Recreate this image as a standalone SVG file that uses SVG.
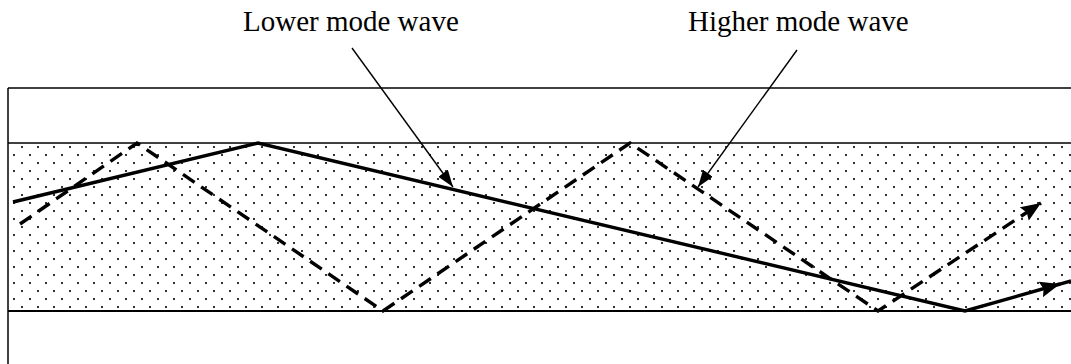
<svg xmlns="http://www.w3.org/2000/svg" width="1071" height="364" viewBox="0 0 1071 364">
  <defs>
    <style>
      .label { font-family: "Liberation Serif", "Times New Roman", serif; font-size: 29px; fill: #000; }
      .edge { stroke: #000; stroke-width: 1.5; fill: none; }
      .wave { stroke: #000; stroke-width: 3.4; fill: none; stroke-linejoin: miter; }
      .dashed { stroke-dasharray: 14 8; }
      .leader { stroke: #000; stroke-width: 1.4; fill: none; }
    </style>
    <pattern id="dots" patternUnits="userSpaceOnUse" x="13" y="10" width="16" height="16">
      <rect x="0" y="0" width="2" height="2" fill="#333"/>
      <rect x="8" y="8" width="2" height="2" fill="#333"/>
    </pattern>
    <marker id="bigArrow" markerUnits="userSpaceOnUse" markerWidth="22" markerHeight="16" refX="20" refY="8" orient="auto">
      <path d="M0,0 L20,8 L0,16 L3,8 z" fill="#000" stroke="none"/>
    </marker>
    <marker id="thinArrow" markerUnits="userSpaceOnUse" markerWidth="18" markerHeight="12" refX="17" refY="6" orient="auto">
      <path d="M0,0 L17,6 L0,12 z" fill="#000" stroke="none"/>
    </marker>
  </defs>

  <rect width="1071" height="364" fill="#fff"/>

  <g id="cladding">
    <line class="edge" x1="8" y1="88" x2="1071" y2="88"/>
    <line class="edge" x1="8" y1="88" x2="8" y2="364"/>
  </g>

  <g id="core">
    <rect x="8" y="143" width="1063" height="168" fill="url(#dots)"/>
    <line class="edge" x1="8" y1="143" x2="1071" y2="143"/>
    <line x1="8" y1="311" x2="1071" y2="311" stroke="#000" stroke-width="2"/>
  </g>

  <g id="connectors">
    <g id="lower-mode-wave">
      <polyline class="wave" points="13,202 258,143 965,311 1060,284" marker-end="url(#bigArrow)"/>
      <line class="wave" x1="1058" y1="284.6" x2="1071" y2="281"/>
    </g>
    <g id="higher-mode-wave">
      <polyline class="wave dashed" points="20,224 137,143 383,311 630,143 878,311 1041,203" marker-end="url(#bigArrow)"/>
    </g>
    <line id="lower-leader" class="leader" x1="352" y1="48" x2="453" y2="187" marker-end="url(#thinArrow)"/>
    <line id="higher-leader" class="leader" x1="797" y1="50" x2="698" y2="187" marker-end="url(#thinArrow)"/>
  </g>

  <g id="label-lower">
    <text class="label" x="243" y="31">Lower mode wave</text>
  </g>
  <g id="label-higher">
    <text class="label" x="688" y="31">Higher mode wave</text>
  </g>
</svg>
